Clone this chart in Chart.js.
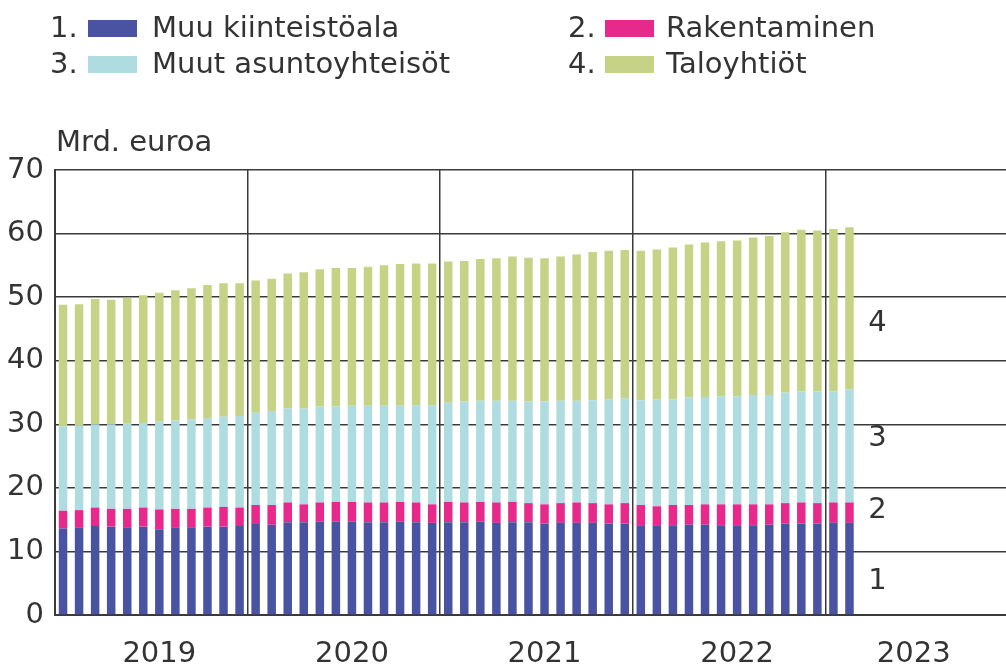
<!DOCTYPE html>
<html>
<head>
<meta charset="utf-8">
<script src="https://cdn.jsdelivr.net/npm/chart.js@4/dist/chart.umd.min.js"></script>
<style>
  html, body { margin: 0; padding: 0; background: #fff; }
  /* plot runs on past the right edge, like in the original (2023 is cut) */
  #clip { width: 1006px; height: 666px; overflow: hidden; position: relative; }
  #chart { display: block; }
</style>
</head>
<body>
<div id="clip"><canvas id="chart" width="1018" height="666"></canvas></div>
<script>
// Mrd. euroa, kuukausittain 1/2019 - 2/2023
const years = ['2019', '2020', '2021', '2022', '2023'];
const months = ['01', '02', '03', '04', '05', '06', '07', '08', '09', '10', '11', '12'];
// minkä kuukauden kohdalle vuosiluku tulee (2023 näkyvän osan keskelle)
const yearLabelMonth = [6, 6, 6, 6, 5];

const seriesNames = ['Muu kiinteistöala', 'Rakentaminen', 'Muut asuntoyhteisöt', 'Taloyhtiöt'];
const seriesColors = ['#4a53a2', '#e6298b', '#afdce0', '#c6d386'];

const muuKiinteistoala = [
  13.6, 13.7, 14.0, 13.9, 13.8, 13.9, 13.5, 13.7, 13.8, 13.9, 13.9, 14.0,
  14.3, 14.2, 14.6, 14.6, 14.7, 14.7, 14.7, 14.6, 14.6, 14.7, 14.6, 14.5,
  14.6, 14.6, 14.7, 14.5, 14.6, 14.6, 14.4, 14.5, 14.5, 14.5, 14.4, 14.4,
  14.1, 14.1, 14.1, 14.2, 14.2, 14.1, 14.1, 14.1, 14.2, 14.4, 14.4, 14.4,
  14.5, 14.5,
];
const rakentaminen = [
  2.8, 2.8, 2.9, 2.8, 2.9, 3.0, 3.1, 3.0, 2.9, 3.0, 3.1, 2.9,
  3.0, 3.1, 3.1, 2.8, 3.0, 3.1, 3.1, 3.1, 3.1, 3.1, 3.1, 2.9,
  3.2, 3.1, 3.1, 3.2, 3.2, 3.0, 3.0, 3.1, 3.2, 3.1, 3.0, 3.2,
  3.2, 3.0, 3.2, 3.1, 3.2, 3.3, 3.3, 3.3, 3.2, 3.2, 3.3, 3.2,
  3.2, 3.2,
];
const muutAsuntoyhteisot = [
  13.3, 13.3, 13.1, 13.3, 13.4, 13.3, 13.8, 13.9, 14.1, 14.1, 14.2, 14.4,
  14.5, 14.8, 14.8, 15.1, 15.1, 15.0, 15.1, 15.2, 15.2, 15.1, 15.3, 15.6,
  15.6, 15.9, 15.9, 16.0, 15.9, 16.0, 16.2, 16.1, 16.0, 16.2, 16.5, 16.5,
  16.5, 16.8, 16.6, 16.9, 16.9, 17.0, 17.0, 17.2, 17.2, 17.4, 17.5, 17.6,
  17.5, 17.8,
];
const taloyhtiot = [
  19.1, 19.1, 19.7, 19.6, 19.8, 20.1, 20.3, 20.5, 20.6, 20.9, 21.0, 20.9,
  20.8, 20.8, 21.2, 21.4, 21.6, 21.8, 21.7, 21.9, 22.1, 22.3, 22.3, 22.3,
  22.2, 22.1, 22.3, 22.4, 22.7, 22.6, 22.5, 22.7, 23.0, 23.3, 23.4, 23.3,
  23.5, 23.6, 23.9, 24.1, 24.3, 24.4, 24.5, 24.8, 25.0, 25.2, 25.4, 25.3,
  25.5, 25.5,
];

// numerot pinon oikealla puolella (arvo-akselin kohta)
const endLabels = ['1', '2', '3', '4'];
const endLabelValues = [5.3, 16.4, 27.8, 45.8];

const labels = years.flatMap(y => months.map(m => y + '-' + m));
const seriesData = [muuKiinteistoala, rakentaminen, muutAsuntoyhteisot, taloyhtiot];

const FONT = '"DejaVu Sans", sans-serif';
const FSIZE = 29;
const TEXT = '#333333';
const LINE = '#3a3a3a';

// legenda 2 saraketta + yksikkö + numerot
const extrasPlugin = {
  id: 'extras',
  afterDraw(chart) {
    const ctx = chart.ctx;
    const x = chart.scales.x;
    const y = chart.scales.y;
    ctx.save();
    ctx.font = FSIZE + 'px ' + FONT;
    ctx.fillStyle = TEXT;
    ctx.textBaseline = 'middle';

    // legenda
    const numX = [50, 568];
    const boxX = [88, 605];
    const textX = [152, 666];
    const rowY = [29, 65];
    seriesNames.forEach((name, i) => {
      const col = i % 2;
      const cy = rowY[Math.floor(i / 2)];
      ctx.fillStyle = TEXT;
      ctx.textAlign = 'left';
      ctx.fillText((i + 1) + '.', numX[col], cy);
      ctx.fillStyle = seriesColors[i];
      ctx.fillRect(boxX[col], cy - 9, 49, 17);
      ctx.fillStyle = TEXT;
      ctx.fillText(name, textX[col], cy);
    });

    // yksikkö
    ctx.fillText('Mrd. euroa', 56, 143);

    // sarjanumerot
    const lx = x.getPixelForValue(muuKiinteistoala.length - 1) + 28;
    ctx.textAlign = 'center';
    endLabels.forEach((t, i) => {
      ctx.fillText(t, lx, y.getPixelForValue(endLabelValues[i]));
    });
    ctx.restore();
  }
};

new Chart(document.getElementById('chart'), {
  type: 'bar',
  data: {
    labels,
    datasets: seriesData.map((d, i) => ({
      label: seriesNames[i],
      data: d,
      backgroundColor: seriesColors[i],
      borderWidth: 0,
      barPercentage: 0.53,
      categoryPercentage: 1,
    })),
  },
  options: {
    responsive: false,
    animation: false,
    layout: { padding: { top: 170, left: 0, right: 0, bottom: 0 } },
    plugins: {
      legend: { display: false },
      tooltip: { enabled: false },
    },
    scales: {
      x: {
        stacked: true,
        afterFit: s => { s.height = 51; s.paddingLeft = 0; s.paddingRight = 0; },
        grid: {
          offset: true,
          drawTicks: false,
          lineWidth: 1.5,
          color: c => (c.index > 0 && c.index % 12 === 0) ? LINE : 'rgba(0,0,0,0)',
        },
        border: { display: true, color: LINE, width: 2 },
        ticks: {
          autoSkip: false,
          maxRotation: 0,
          minRotation: 0,
          padding: 22,
          color: TEXT,
          font: { family: FONT, size: FSIZE },
          callback: (v, i) => {
            const yi = Math.floor(i / 12);
            return i % 12 === yearLabelMonth[yi] ? years[yi] : '';
          },
        },
      },
      y: {
        stacked: true,
        min: 0,
        max: 70,
        afterFit: s => { s.width = 55; },
        grid: { color: LINE, lineWidth: 1.5, drawTicks: false },
        border: { display: true, color: LINE, width: 2 },
        ticks: {
          stepSize: 10,
          padding: 11,
          color: TEXT,
          font: { family: FONT, size: FSIZE },
        },
      },
    },
  },
  plugins: [extrasPlugin],
});
</script>
</body>
</html>
